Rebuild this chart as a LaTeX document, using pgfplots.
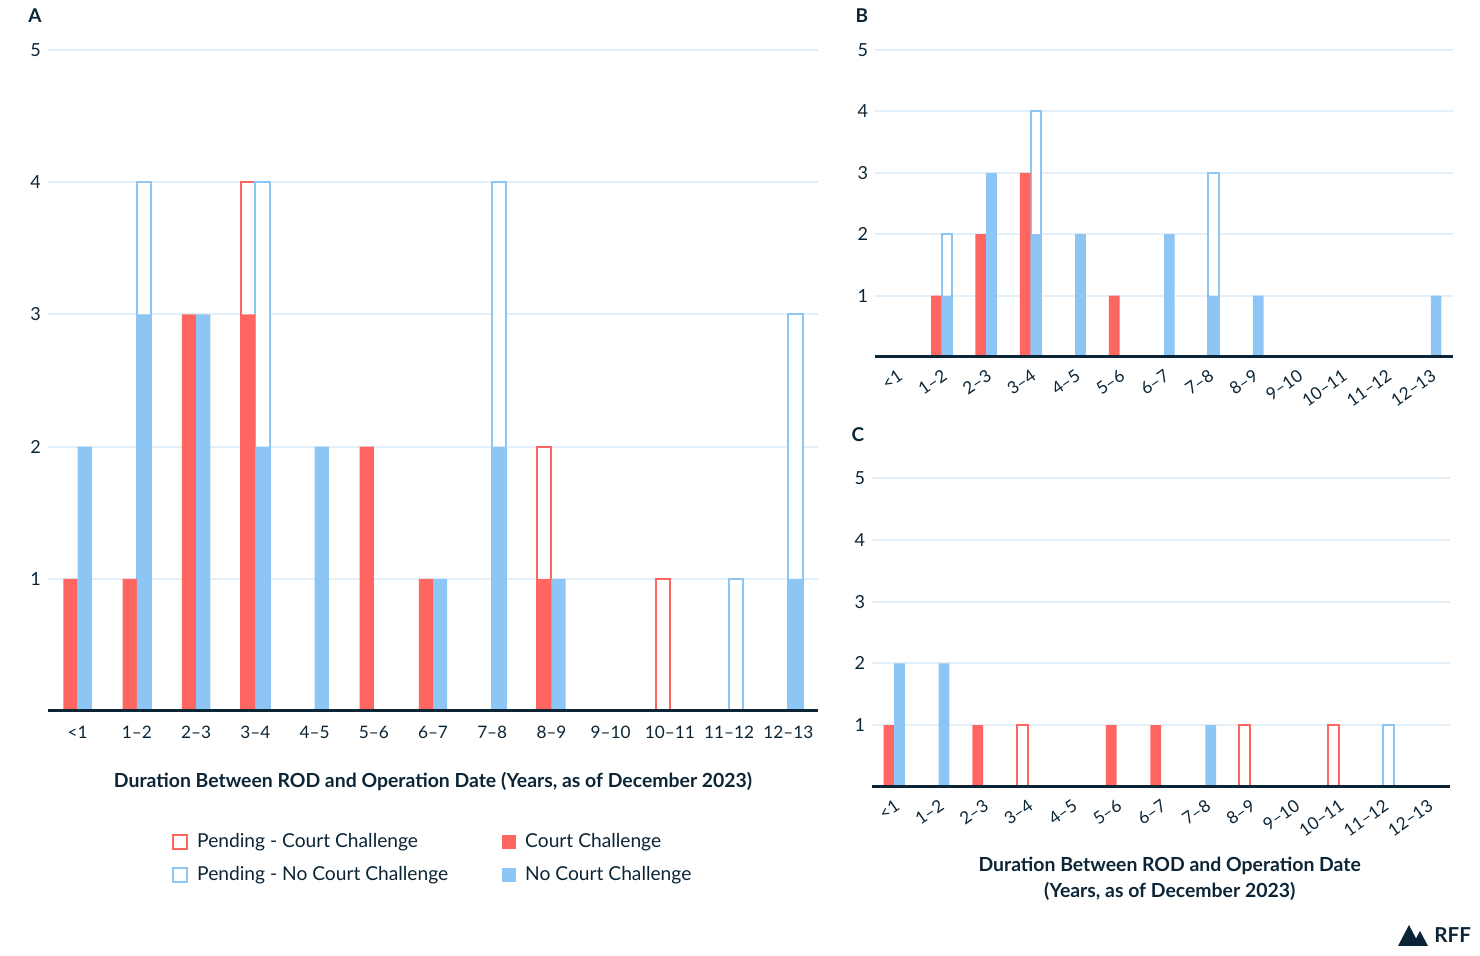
\documentclass[border=0pt]{standalone}
\usepackage{pgfplots}
\pgfplotsset{compat=1.18}
\usepackage{fontspec}
\setmainfont{Lato}
\definecolor{rffred}{HTML}{FF6662}
\definecolor{rffblue}{HTML}{8DC6F4}
\definecolor{gridblue}{HTML}{E3F0FA}
\definecolor{navy}{HTML}{0C2536}

\pgfplotsset{
  rffbase/.style={
    scale only axis,
    xmin=-0.5, xmax=12.5, ymin=0, ymax=5,
    clip=false,
    axis line style={draw=none},
    major tick length=0pt,
    ytick={1,2,3,4,5},
    xtick={0,...,12},
    xticklabels={<1,1--2,2--3,3--4,4--5,5--6,6--7,7--8,8--9,9--10,10--11,11--12,12--13},
    ymajorgrids,
    grid style={gridblue, line width=1pt},
    tick label style={font=\fontsize{8.6}{10}\selectfont, text=navy},
    yticklabel style={font=\fontsize{9}{10}\selectfont},
    /pgf/number format/assume math mode=true,
    legend image code/.code={\path[##1] (0pt,-3.5pt) rectangle (7pt,3.5pt); \path (9.5pt,0pt);},
  },
  cfill/.style={ybar, bar width=0.24, bar shift=-0.12, fill=rffred, draw=none},
  nfill/.style={ybar, bar width=0.24, bar shift=0.12, fill=rffblue, draw=none},
  cpend/.style={ybar, bar width=0.24, bar shift=-0.12, fill=white, draw=rffred, line width=1pt},
  npend/.style={ybar, bar width=0.24, bar shift=0.12, fill=white, draw=rffblue, line width=1pt},
}

\begin{document}
\begin{tikzpicture}
\path[use as bounding box] (0,0) rectangle (740pt,478pt);

% Panel A
\begin{axis}[rffbase,
  at={(24pt,122.5pt)}, anchor=south west,
  width=385pt, height=330.5pt,
  xticklabel style={yshift=-4pt},
  xlabel={\bfseries Duration Between ROD and Operation Date (Years, as of December 2023)},
  xlabel style={at={(axis description cs:0.5,-0.107)}, anchor=center, font=\fontsize{9.7}{11}\selectfont, text=navy},
  legend style={at={(axis description cs:0.153,-0.172)}, anchor=north west, draw=none,
    font=\fontsize{9.6}{11}\selectfont, text=navy, row sep=4pt,
    /tikz/every even column/.append style={column sep=25pt}},
  legend columns=2, transpose legend, legend cell align=left,
]
\addplot[cpend] coordinates {(3,4) (8,2) (10,1)};
\addlegendentry{Pending - Court Challenge}
\addplot[npend] coordinates {(1,4) (3,4) (7,4) (11,1) (12,3)};
\addlegendentry{Pending - No Court Challenge}
\addplot[cfill] coordinates {(0,1) (1,1) (2,3) (3,3) (5,2) (6,1) (8,1)};
\addlegendentry{Court Challenge}
\addplot[nfill] coordinates {(0,2) (1,3) (2,3) (3,2) (4,2) (6,1) (7,2) (8,1) (12,1)};
\addlegendentry{No Court Challenge}
\draw[navy, line width=1.5pt] (axis cs:-0.5,0) -- (axis cs:12.5,0);
\end{axis}

% Panel B
\begin{axis}[rffbase,
  at={(437.5pt,299.5pt)}, anchor=south west,
  width=289pt, height=153.5pt,
  xticklabel style={rotate=35, anchor=north east, yshift=-1pt},
]
\addplot[npend] coordinates {(1,2) (3,4) (7,3)};
\addplot[cfill] coordinates {(1,1) (2,2) (3,3) (5,1)};
\addplot[nfill] coordinates {(1,1) (2,3) (3,2) (4,2) (6,2) (7,1) (8,1) (12,1)};
\draw[navy, line width=1.5pt] (axis cs:-0.5,0) -- (axis cs:12.5,0);
\end{axis}

% Panel C
\begin{axis}[rffbase,
  at={(436pt,84.5pt)}, anchor=south west,
  width=289pt, height=154.5pt,
  xticklabel style={rotate=35, anchor=north east, yshift=-1pt},
  xlabel={\bfseries Duration Between ROD and Operation Date\\\bfseries (Years, as of December 2023)},
  xlabel style={at={(axis description cs:0.515,-0.298)}, anchor=center, align=center,
    font=\fontsize{9.7}{13}\selectfont, text=navy},
]
\addplot[cpend] coordinates {(3,1) (8,1) (10,1)};
\addplot[npend] coordinates {(11,1)};
\addplot[cfill] coordinates {(0,1) (2,1) (5,1) (6,1)};
\addplot[nfill] coordinates {(0,2) (1,2) (7,1)};
\draw[navy, line width=1.5pt] (axis cs:-0.5,0) -- (axis cs:12.5,0);
\end{axis}

% panel letters
\node[font=\bfseries\fontsize{9.5}{11}\selectfont, text=navy] at (17.5pt,470pt) {A};
\node[font=\bfseries\fontsize{9.5}{11}\selectfont, text=navy] at (431pt,470pt) {B};
\node[font=\bfseries\fontsize{9.5}{11}\selectfont, text=navy] at (429pt,260.5pt) {C};

% RFF mark
\fill[navy] (699pt,5pt) -- (704.5pt,15.5pt) -- (710pt,5pt) -- cycle;
\fill[navy] (706pt,5pt) -- (710pt,12.5pt) -- (714pt,5pt) -- cycle;
\node[anchor=west, font=\bfseries\fontsize{10.3}{11}\selectfont, text=navy, inner sep=0pt] at (717pt,10.5pt) {RFF};
\end{tikzpicture}
\end{document}
